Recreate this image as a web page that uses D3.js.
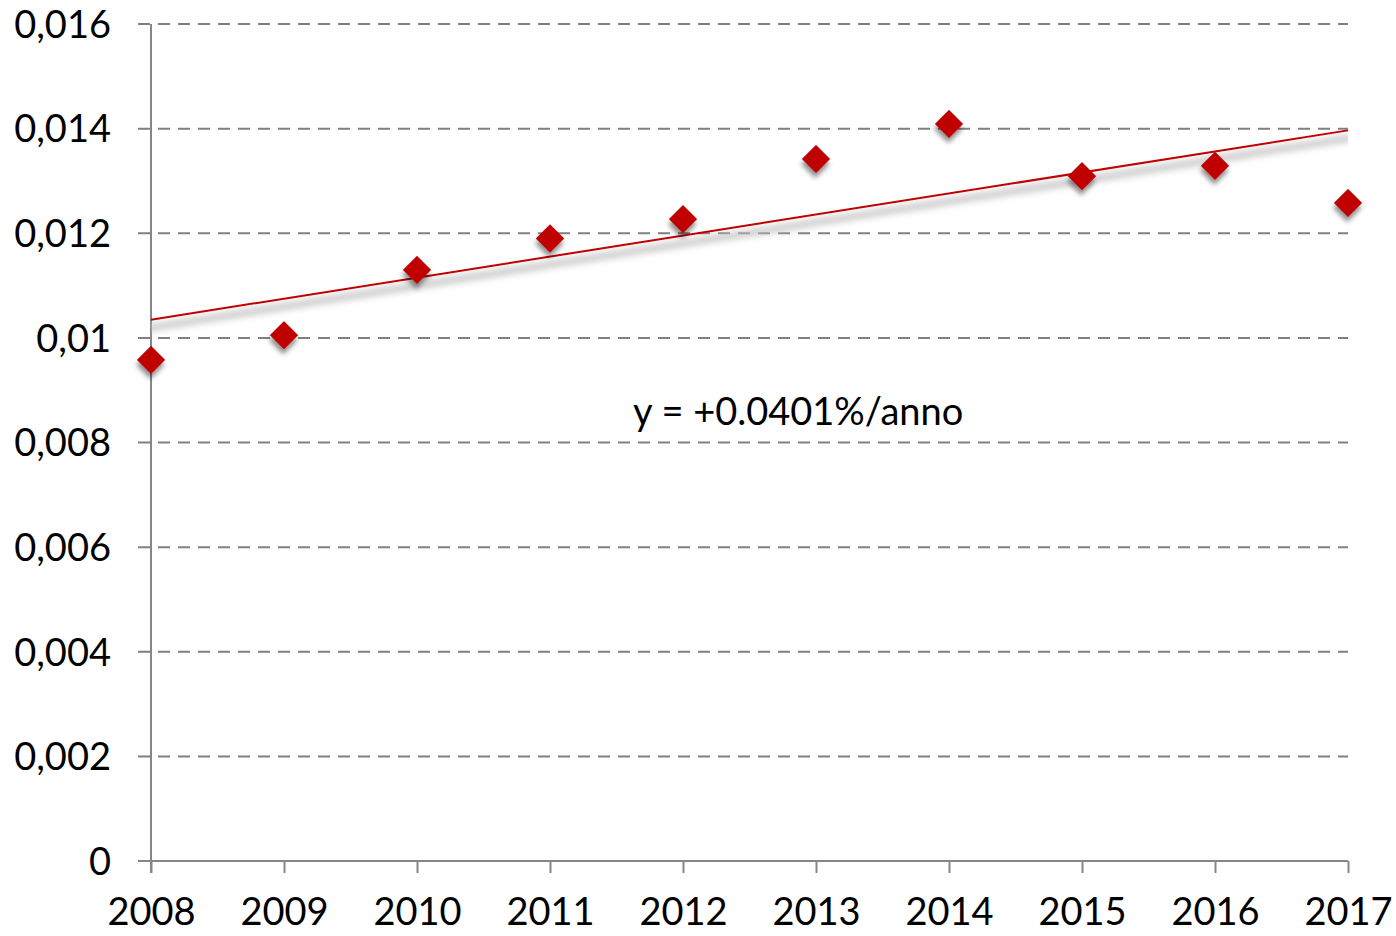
<!DOCTYPE html>
<html>
<head>
<meta charset="utf-8">
<script src="https://cdn.jsdelivr.net/npm/d3@7"></script>
<style>
  body { margin: 0; background: #fff; }
  text { font-family: Lato, "Open Sans", sans-serif; fill: #000; }
</style>
</head>
<body>
<div id="chart"></div>
<script>
const width = 1396
const height = 936
const margin = { top: 24, bottom: 75, left: 151, right: 48 }

// dati
const years = [2008, 2009, 2010, 2011, 2012, 2013, 2014, 2015, 2016, 2017]
const values = [0.00958, 0.01005, 0.0113, 0.0119, 0.01227, 0.01342, 0.01409, 0.01309, 0.01329, 0.01258]
const yTicks = [0, 0.002, 0.004, 0.006, 0.008, 0.01, 0.012, 0.014, 0.016]
const trendLabel = "y = +0.0401%/anno"

const svg = d3.select("#chart").append("svg")
    .attr("width", width)
    .attr("height", height)

const defs = svg.append("defs")
defs.append("filter").attr("id", "shadow")
    .attr("x", "-50%").attr("y", "-50%").attr("width", "200%").attr("height", "200%")
    .append("feDropShadow")
    .attr("dx", 3).attr("dy", 4).attr("stdDeviation", 2.5)
    .attr("flood-color", "#000").attr("flood-opacity", 0.45)
defs.append("filter").attr("id", "blur")
    .attr("x", "-10%").attr("y", "-200%").attr("width", "120%").attr("height", "500%")
    .append("feGaussianBlur").attr("stdDeviation", "0 3")

const innerW = width - margin.left - margin.right
const innerH = height - margin.top - margin.bottom

const x = d3.scaleLinear().domain([2008, 2017]).range([0, innerW])
const y = d3.scaleLinear().domain([0, 0.016]).range([innerH, 0])

const g = svg.append("g").attr("transform", `translate(${margin.left}, ${margin.top})`)

// griglia
g.selectAll(".grid").data(yTicks.filter(d => d > 0)).join("line")
    .attr("x1", -13).attr("x2", innerW)
    .attr("y1", d => y(d)).attr("y2", d => y(d))
    .attr("stroke", "#808080").attr("stroke-width", 2)
    .attr("stroke-dasharray", "12 8")

// assi
const yAxis = d3.axisLeft(y).tickValues(yTicks).tickSize(13).tickPadding(27)
    .tickFormat(d => d === 0 ? "0" : String(+d.toFixed(3)).replace(".", ","))
const yAxisGroup = g.append("g").call(yAxis)
yAxisGroup.select(".domain").remove()
yAxisGroup.selectAll(".tick line").attr("stroke", "none")
yAxisGroup.selectAll("text").attr("font-size", 38).attr("dy", "0.35em")
g.append("line").attr("x1", 0).attr("x2", 0).attr("y1", 0).attr("y2", innerH + 12)
    .attr("stroke", "#868686").attr("stroke-width", 2)
g.append("line").attr("x1", -13).attr("x2", innerW).attr("y1", innerH).attr("y2", innerH)
    .attr("stroke", "#868686").attr("stroke-width", 2)

const xAxis = d3.axisBottom(x).tickValues(years).tickFormat(d3.format("d")).tickSize(12).tickPadding(25)
const xAxisGroup = g.append("g").attr("transform", `translate(0, ${innerH})`).call(xAxis)
xAxisGroup.select(".domain").remove()
xAxisGroup.selectAll(".tick line").attr("stroke", "#868686").attr("stroke-width", 2)
xAxisGroup.selectAll("text").attr("font-size", 38)

// linea di tendenza (minimi quadrati)
const mx = d3.mean(years), my = d3.mean(values)
const slope = d3.sum(years, (d, i) => (d - mx) * (values[i] - my)) / d3.sum(years, d => (d - mx) ** 2)
const icpt = my - slope * mx
const trend = [2008, 2017].map(d => ({ year: d, v: icpt + slope * d }))
const line = d3.line().x(d => x(d.year)).y(d => y(d.v))

g.append("path").attr("d", line(trend))
    .attr("transform", "translate(0, 8)")
    .attr("fill", "none").attr("stroke", "#bdbdbd").attr("stroke-width", 8)
    .attr("opacity", 0.7).attr("filter", "url(#blur)")
g.append("path").attr("d", line(trend))
    .attr("fill", "none").attr("stroke", "#C00000").attr("stroke-width", 2)

// punti
g.selectAll(".pt").data(values).join("path")
    .attr("d", d3.symbol().type(d3.symbolSquare).size(400))
    .attr("transform", (d, i) => `translate(${x(years[i])}, ${y(d)}) rotate(45)`)
    .attr("fill", "#C00000")
    .attr("filter", "url(#shadow)")

g.append("text").text(trendLabel)
    .attr("x", 482).attr("y", 401)
    .attr("font-size", 38)
</script>
</body>
</html>
